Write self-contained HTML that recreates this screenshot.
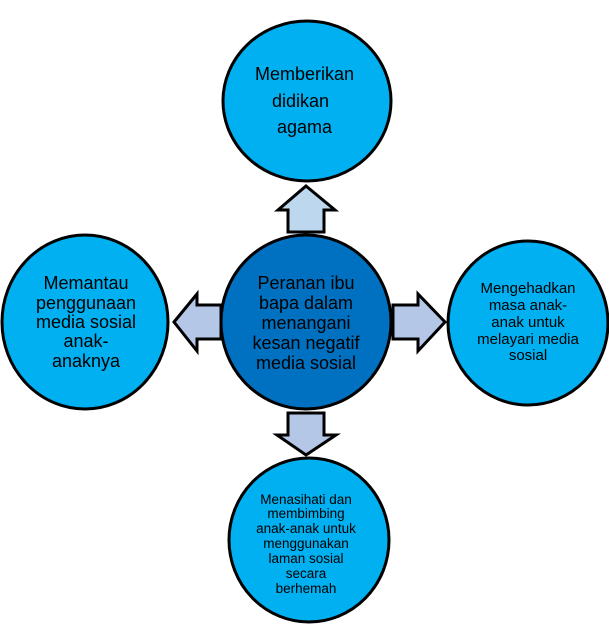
<!DOCTYPE html>
<html><head><meta charset="utf-8"><style>
html,body{margin:0;padding:0;background:#fff;width:609px;height:630px;overflow:hidden}
svg{display:block}
text{font-family:"Liberation Sans",Arial,sans-serif;fill:#000}
</style></head><body>
<svg width="609" height="630" viewBox="0 0 609 630">
<g stroke="#000" stroke-width="3" stroke-linejoin="miter">
<ellipse cx="307" cy="101" rx="84" ry="80" fill="#00b0f0"/>
<ellipse cx="85" cy="322" rx="83" ry="87" fill="#00b0f0"/>
<ellipse cx="528" cy="323" rx="80" ry="82" fill="#00b0f0"/>
<ellipse cx="309" cy="540" rx="80" ry="82" fill="#00b0f0"/>
<ellipse cx="306" cy="322" rx="85" ry="87" fill="#0070c0"/>
<!-- top arrow -->
<polygon points="306,186 335,210 324,210 324,232 288,232 288,210 278,210" fill="#bdd7ee"/>
<!-- left arrow -->
<polygon points="174,322 197,294 197,305 221,305 221,339 197,339 197,351" fill="#b4c7e7"/>
<!-- right arrow -->
<polygon points="445,322 418,294 418,305 393,305 393,339 418,339 418,351" fill="#b4c7e7"/>
<!-- bottom arrow -->
<polygon points="306,455 336,435 324,435 324,413 288,413 288,435 277,435" fill="#b4c7e7"/>
</g>
<g font-size="18">
<text x="255" y="80">Memberikan</text>
<text x="272" y="107">didikan</text>
<text x="277" y="133">agama</text>
</g>
<g font-size="18" text-anchor="middle">
<text x="306" y="289">Peranan ibu</text>
<text x="306" y="309">bapa dalam</text>
<text x="306" y="329">menangani</text>
<text x="306" y="349">kesan negatif</text>
<text x="306" y="369">media sosial</text>
</g>
<g font-size="18" text-anchor="middle">
<text x="86" y="289">Memantau</text>
<text x="86" y="309">penggunaan</text>
<text x="86" y="328">media sosial</text>
<text x="86" y="347">anak-</text>
<text x="86" y="367">anaknya</text>
</g>
<g font-size="15" text-anchor="middle">
<text x="528" y="293">Mengehadkan</text>
<text x="528" y="310">masa anak-</text>
<text x="528" y="327">anak untuk</text>
<text x="528" y="344">melayari media</text>
<text x="528" y="360">sosial</text>
</g>
<g font-size="13.5" text-anchor="middle">
<text x="306" y="504">Menasihati dan</text>
<text x="306" y="518">membimbing</text>
<text x="306" y="533">anak-anak untuk</text>
<text x="306" y="548">menggunakan</text>
<text x="306" y="563">laman sosial</text>
<text x="306" y="578">secara</text>
<text x="306" y="593">berhemah</text>
</g>
</svg>
</body></html>
